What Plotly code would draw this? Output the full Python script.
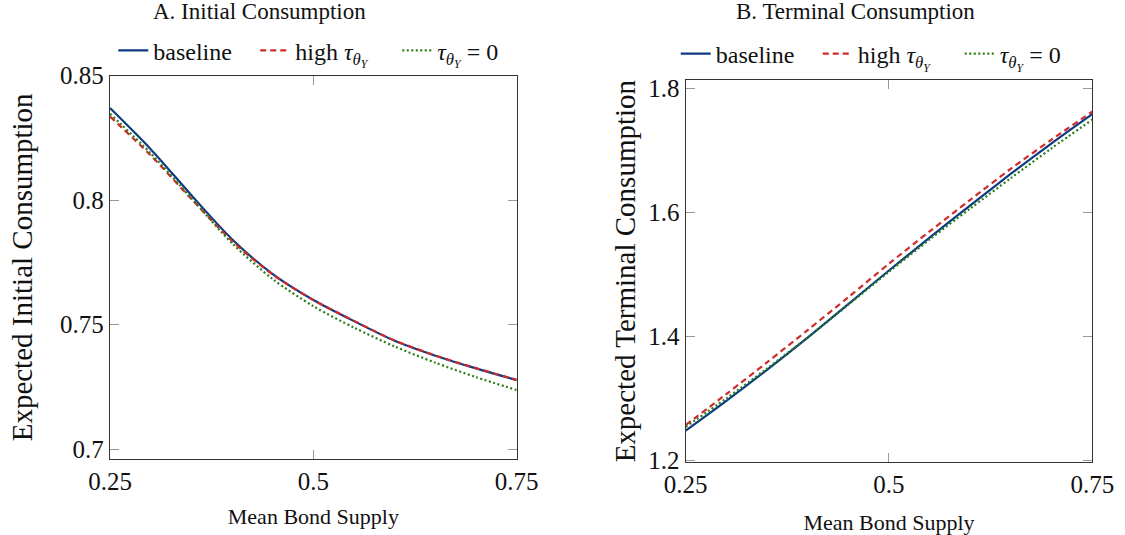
import plotly.graph_objects as go

# ---- data ----
bond_supply = [0.25, 0.30, 0.35, 0.40, 0.45, 0.50, 0.55, 0.60, 0.65, 0.70, 0.75]

init_baseline = [0.8370, 0.8205, 0.8020, 0.7843, 0.7703, 0.7599, 0.7514, 0.7435, 0.7375, 0.7324, 0.7277]
init_high_tau = [0.8336, 0.8180, 0.8005, 0.7836, 0.7701, 0.7599, 0.7515, 0.7436, 0.7376, 0.7325, 0.7278]
init_tau_zero = [0.8347, 0.8188, 0.8008, 0.7827, 0.7683, 0.7574, 0.7488, 0.7412, 0.7347, 0.7289, 0.7237]

term_baseline = [1.248, 1.296, 1.346, 1.398, 1.452, 1.506, 1.559, 1.611, 1.662, 1.711, 1.758]
term_high_tau = [1.257, 1.307, 1.358, 1.410, 1.463, 1.517, 1.569, 1.620, 1.670, 1.717, 1.762]
term_tau_zero = [1.254, 1.300, 1.348, 1.398, 1.451, 1.504, 1.556, 1.606, 1.655, 1.703, 1.749]

TAU = "<i>τ</i><sub><i>θ</i><sub><i>Y</i></sub></sub>"
series_names = ["baseline", "high " + TAU, TAU + " = 0"]

x_tickvals = [0.25, 0.5, 0.75]
x_ticktext = ["0.25", "0.5", "0.75"]
y1_tickvals = [0.7, 0.75, 0.8, 0.85]
y1_ticktext = ["0.7", "0.75", "0.8", "0.85"]
y2_tickvals = [1.2, 1.4, 1.6, 1.8]
y2_ticktext = ["1.2", "1.4", "1.6", "1.8"]

# ---- styles ----
FONT = "Liberation Serif"
BLUE = "#0d3b80"
RED = "#d12a2a"
GREEN = "#2a7d14"
styles = [dict(color=BLUE, width=2.2, dash="solid"),
          dict(color=RED, width=2.2, dash="6px,4px"),
          dict(color=GREEN, width=2.2, dash="2px,2.5px")]

fig = go.Figure()

left = [init_baseline, init_high_tau, init_tau_zero]
right = [term_baseline, term_high_tau, term_tau_zero]
for name, ys, st in zip(series_names, left, styles):
    fig.add_trace(go.Scatter(x=bond_supply, y=ys, mode="lines", name=name,
                             line=dict(shape="spline", smoothing=0.8, **st),
                             xaxis="x", yaxis="y", legend="legend"))
for name, ys, st in zip(series_names, right, styles):
    fig.add_trace(go.Scatter(x=bond_supply, y=ys, mode="lines", name=name,
                             line=dict(shape="spline", smoothing=0.8, **st),
                             xaxis="x2", yaxis="y2", legend="legend2"))

axis_common = dict(showline=True, linecolor="#333333", linewidth=1.4, mirror="allticks",
                   ticks="inside", ticklen=9, tickcolor="#999999", tickwidth=1.2,
                   showgrid=False, zeroline=False, automargin=False,
                   tickfont=dict(family=FONT, size=25, color="#111111"))
xtitle_font = dict(family=FONT, size=22, color="#111111")
ytitle_font = dict(family=FONT, size=29, color="#111111")
legend_common = dict(orientation="h", xanchor="center", yanchor="middle",
                     font=dict(family=FONT, size=24), bgcolor="rgba(0,0,0,0)",
                     itemwidth=30, entrywidth=97, entrywidthmode="pixels", tracegroupgap=0)

fig.update_layout(
    width=1125, height=535,
    margin=dict(l=0, r=0, t=0, b=0),
    paper_bgcolor="white", plot_bgcolor="white",
    font=dict(family=FONT, color="#111111"),
    xaxis=dict(domain=[0.0978, 0.4593], range=[0.25, 0.75], tickvals=x_tickvals,
               ticktext=x_ticktext, anchor="y",
               title=dict(text="Mean Bond Supply", font=xtitle_font, standoff=14),
               **axis_common),
    yaxis=dict(domain=[0.142, 0.8585], range=[0.696, 0.850], tickvals=y1_tickvals,
               ticktext=y1_ticktext, anchor="x",
               title=dict(text="Expected Initial Consumption", font=ytitle_font, standoff=18),
               **axis_common),
    xaxis2=dict(domain=[0.6095, 0.9709], range=[0.25, 0.75], tickvals=x_tickvals,
                ticktext=x_ticktext, anchor="y2",
                title=dict(text="Mean Bond Supply", font=xtitle_font, standoff=19),
                **axis_common),
    yaxis2=dict(domain=[0.1359, 0.8505], range=[1.197, 1.813], tickvals=y2_tickvals,
                ticktext=y2_ticktext, anchor="x2",
                title=dict(text="Expected Terminal Consumption", font=ytitle_font, standoff=4),
                **axis_common),
    legend=dict(x=0.29, y=0.905, **legend_common),
    legend2=dict(x=0.79, y=0.899, **legend_common),
    annotations=[
        dict(text="A. Initial Consumption", x=0.231, y=0.9776, xref="paper", yref="paper",
             xanchor="center", yanchor="middle", showarrow=False,
             font=dict(family=FONT, size=23, color="#111111")),
        dict(text="B. Terminal Consumption", x=0.76, y=0.9776, xref="paper", yref="paper",
             xanchor="center", yanchor="middle", showarrow=False,
             font=dict(family=FONT, size=23, color="#111111")),
    ],
)

fig.write_html("out.html")
